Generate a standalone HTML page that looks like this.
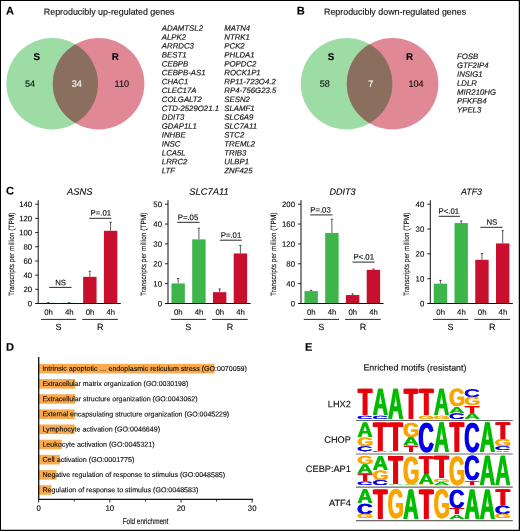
<!DOCTYPE html>
<html><head><meta charset="utf-8"><title>Figure</title>
<style>
html,body{margin:0;padding:0;background:#fff}
svg{display:block;will-change:transform;font-family:"Liberation Sans",sans-serif;text-rendering:geometricPrecision}
.t{stroke-width:.12px}
</style></head><body>
<svg width="520" height="531" viewBox="0 0 520 531">
<rect x="0" y="0" width="520" height="531" fill="#fff"/>
<text class="t" transform="translate(5.90 14.60) rotate(0.03)" font-size="11.1" font-weight="bold" fill="#000" stroke="#000">A</text>
<text class="t" transform="translate(296.70 14.60) rotate(0.03)" font-size="11.1" font-weight="bold" fill="#000" stroke="#000">B</text>
<text class="t" transform="translate(5.90 194.60) rotate(0.03)" font-size="11.1" font-weight="bold" fill="#000" stroke="#000">C</text>
<text class="t" transform="translate(5.90 350.80) rotate(0.03)" font-size="11.1" font-weight="bold" fill="#000" stroke="#000">D</text>
<text class="t" transform="translate(305.00 350.80) rotate(0.03)" font-size="11.1" font-weight="bold" fill="#000" stroke="#000">E</text>
<circle cx="52.2" cy="83.7" r="45.8" fill="#9ddca4"/>
<circle cx="98.6" cy="83.7" r="45.8" fill="#e18896"/>
<clipPath id="cp52"><circle cx="52.2" cy="83.7" r="45.8"/></clipPath>
<circle cx="98.6" cy="83.7" r="45.8" fill="#8a6f5f" clip-path="url(#cp52)"/>
<text class="t" transform="translate(43.80 14.80) rotate(0.03)" font-size="8.9" fill="#0a0a0a" stroke="#0a0a0a">Reproducibly up-regulated genes</text>
<text class="t" transform="translate(36.70 59.90) rotate(0.03)" font-size="9.8" text-anchor="middle" font-weight="bold" fill="#000" stroke="#000">S</text>
<text class="t" transform="translate(115.20 59.90) rotate(0.03)" font-size="9.8" text-anchor="middle" font-weight="bold" fill="#000" stroke="#000">R</text>
<text class="t" transform="translate(30.00 86.70) rotate(0.03)" font-size="9.1" text-anchor="middle" fill="#0a0a0a" stroke="#0a0a0a">54</text>
<text class="t" transform="translate(76.80 86.70) rotate(0.03)" font-size="9.1" text-anchor="middle" fill="#fff" stroke="#fff">34</text>
<text class="t" transform="translate(121.80 86.70) rotate(0.03)" font-size="9.1" text-anchor="middle" fill="#0a0a0a" stroke="#0a0a0a">110</text>
<text transform="translate(161.80 30.80) rotate(0.03)" font-size="7.8" font-style="italic" fill="#151515" stroke="#151515" stroke-width="0.16">ADAMTSL2</text>
<text transform="translate(161.80 39.70) rotate(0.03)" font-size="7.8" font-style="italic" fill="#151515" stroke="#151515" stroke-width="0.16">ALPK2</text>
<text transform="translate(161.80 48.60) rotate(0.03)" font-size="7.8" font-style="italic" fill="#151515" stroke="#151515" stroke-width="0.16">ARRDC3</text>
<text transform="translate(161.80 57.50) rotate(0.03)" font-size="7.8" font-style="italic" fill="#151515" stroke="#151515" stroke-width="0.16">BEST1</text>
<text transform="translate(161.80 66.40) rotate(0.03)" font-size="7.8" font-style="italic" fill="#151515" stroke="#151515" stroke-width="0.16">CEBPB</text>
<text transform="translate(161.80 75.30) rotate(0.03)" font-size="7.8" font-style="italic" fill="#151515" stroke="#151515" stroke-width="0.16">CEBPB-AS1</text>
<text transform="translate(161.80 84.20) rotate(0.03)" font-size="7.8" font-style="italic" fill="#151515" stroke="#151515" stroke-width="0.16">CHAC1</text>
<text transform="translate(161.80 93.10) rotate(0.03)" font-size="7.8" font-style="italic" fill="#151515" stroke="#151515" stroke-width="0.16">CLEC17A</text>
<text transform="translate(161.80 102.00) rotate(0.03)" font-size="7.8" font-style="italic" fill="#151515" stroke="#151515" stroke-width="0.16">COLGALT2</text>
<text transform="translate(161.80 110.90) rotate(0.03)" font-size="7.8" font-style="italic" fill="#151515" stroke="#151515" stroke-width="0.16">CTD-2529O21.1</text>
<text transform="translate(161.80 119.80) rotate(0.03)" font-size="7.8" font-style="italic" fill="#151515" stroke="#151515" stroke-width="0.16">DDIT3</text>
<text transform="translate(161.80 128.70) rotate(0.03)" font-size="7.8" font-style="italic" fill="#151515" stroke="#151515" stroke-width="0.16">GDAP1L1</text>
<text transform="translate(161.80 137.60) rotate(0.03)" font-size="7.8" font-style="italic" fill="#151515" stroke="#151515" stroke-width="0.16">INHBE</text>
<text transform="translate(161.80 146.50) rotate(0.03)" font-size="7.8" font-style="italic" fill="#151515" stroke="#151515" stroke-width="0.16">INSC</text>
<text transform="translate(161.80 155.40) rotate(0.03)" font-size="7.8" font-style="italic" fill="#151515" stroke="#151515" stroke-width="0.16">LCA5L</text>
<text transform="translate(161.80 164.30) rotate(0.03)" font-size="7.8" font-style="italic" fill="#151515" stroke="#151515" stroke-width="0.16">LRRC2</text>
<text transform="translate(161.80 173.20) rotate(0.03)" font-size="7.8" font-style="italic" fill="#151515" stroke="#151515" stroke-width="0.16">LTF</text>
<text transform="translate(224.30 30.80) rotate(0.03)" font-size="7.8" font-style="italic" fill="#151515" stroke="#151515" stroke-width="0.16">MATN4</text>
<text transform="translate(224.30 39.70) rotate(0.03)" font-size="7.8" font-style="italic" fill="#151515" stroke="#151515" stroke-width="0.16">NTRK1</text>
<text transform="translate(224.30 48.60) rotate(0.03)" font-size="7.8" font-style="italic" fill="#151515" stroke="#151515" stroke-width="0.16">PCK2</text>
<text transform="translate(224.30 57.50) rotate(0.03)" font-size="7.8" font-style="italic" fill="#151515" stroke="#151515" stroke-width="0.16">PHLDA1</text>
<text transform="translate(224.30 66.40) rotate(0.03)" font-size="7.8" font-style="italic" fill="#151515" stroke="#151515" stroke-width="0.16">POPDC2</text>
<text transform="translate(224.30 75.30) rotate(0.03)" font-size="7.8" font-style="italic" fill="#151515" stroke="#151515" stroke-width="0.16">ROCK1P1</text>
<text transform="translate(224.30 84.20) rotate(0.03)" font-size="7.8" font-style="italic" fill="#151515" stroke="#151515" stroke-width="0.16">RP11-723O4.2</text>
<text transform="translate(224.30 93.10) rotate(0.03)" font-size="7.8" font-style="italic" fill="#151515" stroke="#151515" stroke-width="0.16">RP4-756G23.5</text>
<text transform="translate(224.30 102.00) rotate(0.03)" font-size="7.8" font-style="italic" fill="#151515" stroke="#151515" stroke-width="0.16">SESN2</text>
<text transform="translate(224.30 110.90) rotate(0.03)" font-size="7.8" font-style="italic" fill="#151515" stroke="#151515" stroke-width="0.16">SLAMF1</text>
<text transform="translate(224.30 119.80) rotate(0.03)" font-size="7.8" font-style="italic" fill="#151515" stroke="#151515" stroke-width="0.16">SLC6A9</text>
<text transform="translate(224.30 128.70) rotate(0.03)" font-size="7.8" font-style="italic" fill="#151515" stroke="#151515" stroke-width="0.16">SLC7A11</text>
<text transform="translate(224.30 137.60) rotate(0.03)" font-size="7.8" font-style="italic" fill="#151515" stroke="#151515" stroke-width="0.16">STC2</text>
<text transform="translate(224.30 146.50) rotate(0.03)" font-size="7.8" font-style="italic" fill="#151515" stroke="#151515" stroke-width="0.16">TREML2</text>
<text transform="translate(224.30 155.40) rotate(0.03)" font-size="7.8" font-style="italic" fill="#151515" stroke="#151515" stroke-width="0.16">TRIB3</text>
<text transform="translate(224.30 164.30) rotate(0.03)" font-size="7.8" font-style="italic" fill="#151515" stroke="#151515" stroke-width="0.16">ULBP1</text>
<text transform="translate(224.30 173.20) rotate(0.03)" font-size="7.8" font-style="italic" fill="#151515" stroke="#151515" stroke-width="0.16">ZNF425</text>
<circle cx="346.6" cy="83.7" r="45.8" fill="#9ddca4"/>
<circle cx="392.6" cy="83.7" r="45.8" fill="#e18896"/>
<clipPath id="cp346"><circle cx="346.6" cy="83.7" r="45.8"/></clipPath>
<circle cx="392.6" cy="83.7" r="45.8" fill="#8a6f5f" clip-path="url(#cp346)"/>
<text class="t" transform="translate(324.00 14.80) rotate(0.03)" font-size="8.9" fill="#0a0a0a" stroke="#0a0a0a">Reproducibly down-regulated genes</text>
<text class="t" transform="translate(330.90 59.90) rotate(0.03)" font-size="9.8" text-anchor="middle" font-weight="bold" fill="#000" stroke="#000">S</text>
<text class="t" transform="translate(409.60 59.90) rotate(0.03)" font-size="9.8" text-anchor="middle" font-weight="bold" fill="#000" stroke="#000">R</text>
<text class="t" transform="translate(324.70 86.70) rotate(0.03)" font-size="9.1" text-anchor="middle" fill="#0a0a0a" stroke="#0a0a0a">58</text>
<text class="t" transform="translate(370.90 86.70) rotate(0.03)" font-size="9.1" text-anchor="middle" fill="#fff" stroke="#fff">7</text>
<text class="t" transform="translate(416.10 86.70) rotate(0.03)" font-size="9.1" text-anchor="middle" fill="#0a0a0a" stroke="#0a0a0a">104</text>
<text transform="translate(457.00 59.00) rotate(0.03)" font-size="7.8" font-style="italic" fill="#151515" stroke="#151515" stroke-width="0.16">FOSB</text>
<text transform="translate(457.00 67.92) rotate(0.03)" font-size="7.8" font-style="italic" fill="#151515" stroke="#151515" stroke-width="0.16">GTF2IP4</text>
<text transform="translate(457.00 76.84) rotate(0.03)" font-size="7.8" font-style="italic" fill="#151515" stroke="#151515" stroke-width="0.16">INSIG1</text>
<text transform="translate(457.00 85.76) rotate(0.03)" font-size="7.8" font-style="italic" fill="#151515" stroke="#151515" stroke-width="0.16">LDLR</text>
<text transform="translate(457.00 94.68) rotate(0.03)" font-size="7.8" font-style="italic" fill="#151515" stroke="#151515" stroke-width="0.16">MIR210HG</text>
<text transform="translate(457.00 103.60) rotate(0.03)" font-size="7.8" font-style="italic" fill="#151515" stroke="#151515" stroke-width="0.16">PFKFB4</text>
<text transform="translate(457.00 112.52) rotate(0.03)" font-size="7.8" font-style="italic" fill="#151515" stroke="#151515" stroke-width="0.16">YPEL3</text>
<path d="M48.35 302.86V302.37M47.15 302.57H49.55" stroke="#1a1a1a" stroke-width="0.7" fill="none"/>
<rect x="41.65" y="302.86" width="13.4" height="0.64" fill="#3db54a"/>
<path d="M69.10 302.86V302.37M67.90 302.57H70.30" stroke="#1a1a1a" stroke-width="0.7" fill="none"/>
<rect x="62.40" y="302.86" width="13.4" height="0.64" fill="#3db54a"/>
<path d="M89.85 276.83V271.01M88.65 271.21H91.05" stroke="#1a1a1a" stroke-width="0.7" fill="none"/>
<rect x="83.15" y="276.83" width="13.4" height="26.67" fill="#c8102e"/>
<path d="M110.60 230.80V222.00M109.40 222.20H111.80" stroke="#1a1a1a" stroke-width="0.7" fill="none"/>
<rect x="103.90" y="230.80" width="13.4" height="72.70" fill="#c8102e"/>
<path d="M38.20 200.2V303.5M35.20 303.5H120.80" stroke="#111" stroke-width="1" fill="none"/>
<text class="t" transform="translate(32.20 306.25) rotate(0.03)" font-size="7.8" text-anchor="end" fill="#0a0a0a" stroke="#0a0a0a">0</text>
<path d="M35.20 289.31H38.20" stroke="#111" stroke-width="0.9"/>
<text class="t" transform="translate(32.20 292.06) rotate(0.03)" font-size="7.8" text-anchor="end" fill="#0a0a0a" stroke="#0a0a0a">20</text>
<path d="M35.20 275.13H38.20" stroke="#111" stroke-width="0.9"/>
<text class="t" transform="translate(32.20 277.88) rotate(0.03)" font-size="7.8" text-anchor="end" fill="#0a0a0a" stroke="#0a0a0a">40</text>
<path d="M35.20 260.94H38.20" stroke="#111" stroke-width="0.9"/>
<text class="t" transform="translate(32.20 263.69) rotate(0.03)" font-size="7.8" text-anchor="end" fill="#0a0a0a" stroke="#0a0a0a">60</text>
<path d="M35.20 246.76H38.20" stroke="#111" stroke-width="0.9"/>
<text class="t" transform="translate(32.20 249.51) rotate(0.03)" font-size="7.8" text-anchor="end" fill="#0a0a0a" stroke="#0a0a0a">80</text>
<path d="M35.20 232.57H38.20" stroke="#111" stroke-width="0.9"/>
<text class="t" transform="translate(32.20 235.32) rotate(0.03)" font-size="7.8" text-anchor="end" fill="#0a0a0a" stroke="#0a0a0a">100</text>
<path d="M35.20 218.39H38.20" stroke="#111" stroke-width="0.9"/>
<text class="t" transform="translate(32.20 221.14) rotate(0.03)" font-size="7.8" text-anchor="end" fill="#0a0a0a" stroke="#0a0a0a">120</text>
<path d="M35.20 204.20H38.20" stroke="#111" stroke-width="0.9"/>
<text class="t" transform="translate(32.20 206.95) rotate(0.03)" font-size="7.8" text-anchor="end" fill="#0a0a0a" stroke="#0a0a0a">140</text>
<text class="t" transform="translate(79.70 194.70) rotate(0.03)" font-size="9.4" text-anchor="middle" font-style="italic" fill="#0a0a0a" stroke="#0a0a0a">ASNS</text>
<text class="t" transform="translate(13.60 254.30) rotate(-90) rotate(0.03) scale(0.857 1)" font-size="7.6" text-anchor="middle" fill="#0a0a0a" stroke="#0a0a0a">Transcripts per million (TPM)</text>
<text class="t" transform="translate(48.55 314.80) rotate(0.03)" font-size="7.8" text-anchor="middle" fill="#0a0a0a" stroke="#0a0a0a">0h</text>
<text class="t" transform="translate(69.30 314.80) rotate(0.03)" font-size="7.8" text-anchor="middle" fill="#0a0a0a" stroke="#0a0a0a">4h</text>
<text class="t" transform="translate(90.05 314.80) rotate(0.03)" font-size="7.8" text-anchor="middle" fill="#0a0a0a" stroke="#0a0a0a">0h</text>
<text class="t" transform="translate(110.80 314.80) rotate(0.03)" font-size="7.8" text-anchor="middle" fill="#0a0a0a" stroke="#0a0a0a">4h</text>
<path d="M41.00 319.4H76.20M82.30 319.4H117.90" stroke="#111" stroke-width="0.9"/>
<text class="t" transform="translate(58.50 330.00) rotate(0.03)" font-size="9" text-anchor="middle" fill="#0a0a0a" stroke="#0a0a0a">S</text>
<text class="t" transform="translate(100.20 330.00) rotate(0.03)" font-size="9" text-anchor="middle" fill="#0a0a0a" stroke="#0a0a0a">R</text>
<text class="t" transform="translate(60.60 285.20) rotate(0.03)" font-size="7.8" text-anchor="middle" fill="#0a0a0a" stroke="#0a0a0a">NS</text>
<path d="M49.20 287.40H71.60" stroke="#111" stroke-width="0.9"/>
<text class="t" transform="translate(100.80 215.40) rotate(0.03)" font-size="7.8" text-anchor="middle" fill="#0a0a0a" stroke="#0a0a0a">P=.01</text>
<path d="M89.20 218.30H111.30" stroke="#111" stroke-width="0.9"/>
<path d="M178.15 283.44V278.28M176.95 278.48H179.35" stroke="#1a1a1a" stroke-width="0.7" fill="none"/>
<rect x="171.45" y="283.44" width="13.4" height="20.06" fill="#3db54a"/>
<path d="M198.90 239.35V228.03M197.70 228.23H200.10" stroke="#1a1a1a" stroke-width="0.7" fill="none"/>
<rect x="192.20" y="239.35" width="13.4" height="64.15" fill="#3db54a"/>
<path d="M219.65 292.18V288.80M218.45 289.00H220.85" stroke="#1a1a1a" stroke-width="0.7" fill="none"/>
<rect x="212.95" y="292.18" width="13.4" height="11.32" fill="#c8102e"/>
<path d="M240.40 253.45V245.31M239.20 245.51H241.60" stroke="#1a1a1a" stroke-width="0.7" fill="none"/>
<rect x="233.70" y="253.45" width="13.4" height="50.05" fill="#c8102e"/>
<path d="M168.00 200.2V303.5M165.00 303.5H250.60" stroke="#111" stroke-width="1" fill="none"/>
<text class="t" transform="translate(162.00 306.25) rotate(0.03)" font-size="7.8" text-anchor="end" fill="#0a0a0a" stroke="#0a0a0a">0</text>
<path d="M165.00 283.64H168.00" stroke="#111" stroke-width="0.9"/>
<text class="t" transform="translate(162.00 286.39) rotate(0.03)" font-size="7.8" text-anchor="end" fill="#0a0a0a" stroke="#0a0a0a">10</text>
<path d="M165.00 263.78H168.00" stroke="#111" stroke-width="0.9"/>
<text class="t" transform="translate(162.00 266.53) rotate(0.03)" font-size="7.8" text-anchor="end" fill="#0a0a0a" stroke="#0a0a0a">20</text>
<path d="M165.00 243.92H168.00" stroke="#111" stroke-width="0.9"/>
<text class="t" transform="translate(162.00 246.67) rotate(0.03)" font-size="7.8" text-anchor="end" fill="#0a0a0a" stroke="#0a0a0a">30</text>
<path d="M165.00 224.06H168.00" stroke="#111" stroke-width="0.9"/>
<text class="t" transform="translate(162.00 226.81) rotate(0.03)" font-size="7.8" text-anchor="end" fill="#0a0a0a" stroke="#0a0a0a">40</text>
<path d="M165.00 204.20H168.00" stroke="#111" stroke-width="0.9"/>
<text class="t" transform="translate(162.00 206.95) rotate(0.03)" font-size="7.8" text-anchor="end" fill="#0a0a0a" stroke="#0a0a0a">50</text>
<text class="t" transform="translate(209.00 194.70) rotate(0.03)" font-size="9.4" text-anchor="middle" font-style="italic" fill="#0a0a0a" stroke="#0a0a0a">SLC7A11</text>
<text class="t" transform="translate(146.30 254.30) rotate(-90) rotate(0.03) scale(0.857 1)" font-size="7.6" text-anchor="middle" fill="#0a0a0a" stroke="#0a0a0a">Transcripts per million (TPM)</text>
<text class="t" transform="translate(178.35 314.80) rotate(0.03)" font-size="7.8" text-anchor="middle" fill="#0a0a0a" stroke="#0a0a0a">0h</text>
<text class="t" transform="translate(199.10 314.80) rotate(0.03)" font-size="7.8" text-anchor="middle" fill="#0a0a0a" stroke="#0a0a0a">4h</text>
<text class="t" transform="translate(219.85 314.80) rotate(0.03)" font-size="7.8" text-anchor="middle" fill="#0a0a0a" stroke="#0a0a0a">0h</text>
<text class="t" transform="translate(240.60 314.80) rotate(0.03)" font-size="7.8" text-anchor="middle" fill="#0a0a0a" stroke="#0a0a0a">4h</text>
<path d="M170.80 319.4H206.00M212.10 319.4H247.70" stroke="#111" stroke-width="0.9"/>
<text class="t" transform="translate(188.30 330.00) rotate(0.03)" font-size="9" text-anchor="middle" fill="#0a0a0a" stroke="#0a0a0a">S</text>
<text class="t" transform="translate(230.00 330.00) rotate(0.03)" font-size="9" text-anchor="middle" fill="#0a0a0a" stroke="#0a0a0a">R</text>
<text class="t" transform="translate(188.00 219.90) rotate(0.03)" font-size="7.8" text-anchor="middle" fill="#0a0a0a" stroke="#0a0a0a">P=.05</text>
<path d="M177.20 222.30H199.60" stroke="#111" stroke-width="0.9"/>
<text class="t" transform="translate(231.00 237.70) rotate(0.03)" font-size="7.8" text-anchor="middle" fill="#0a0a0a" stroke="#0a0a0a">P=.01</text>
<path d="M219.80 240.20H241.80" stroke="#111" stroke-width="0.9"/>
<path d="M311.15 291.09V290.09M309.95 290.29H312.35" stroke="#1a1a1a" stroke-width="0.7" fill="none"/>
<rect x="304.45" y="291.09" width="13.4" height="12.41" fill="#3db54a"/>
<path d="M331.90 233.00V219.09M330.70 219.29H333.10" stroke="#1a1a1a" stroke-width="0.7" fill="none"/>
<rect x="325.20" y="233.00" width="13.4" height="70.50" fill="#3db54a"/>
<path d="M352.65 295.06V293.77M351.45 293.97H353.85" stroke="#1a1a1a" stroke-width="0.7" fill="none"/>
<rect x="345.95" y="295.06" width="13.4" height="8.44" fill="#c8102e"/>
<path d="M373.40 269.84V268.79M372.20 268.99H374.60" stroke="#1a1a1a" stroke-width="0.7" fill="none"/>
<rect x="366.70" y="269.84" width="13.4" height="33.66" fill="#c8102e"/>
<path d="M301.00 200.2V303.5M298.00 303.5H383.60" stroke="#111" stroke-width="1" fill="none"/>
<text class="t" transform="translate(295.00 306.25) rotate(0.03)" font-size="7.8" text-anchor="end" fill="#0a0a0a" stroke="#0a0a0a">0</text>
<path d="M298.00 283.64H301.00" stroke="#111" stroke-width="0.9"/>
<text class="t" transform="translate(295.00 286.39) rotate(0.03)" font-size="7.8" text-anchor="end" fill="#0a0a0a" stroke="#0a0a0a">40</text>
<path d="M298.00 263.78H301.00" stroke="#111" stroke-width="0.9"/>
<text class="t" transform="translate(295.00 266.53) rotate(0.03)" font-size="7.8" text-anchor="end" fill="#0a0a0a" stroke="#0a0a0a">80</text>
<path d="M298.00 243.92H301.00" stroke="#111" stroke-width="0.9"/>
<text class="t" transform="translate(295.00 246.67) rotate(0.03)" font-size="7.8" text-anchor="end" fill="#0a0a0a" stroke="#0a0a0a">120</text>
<path d="M298.00 224.06H301.00" stroke="#111" stroke-width="0.9"/>
<text class="t" transform="translate(295.00 226.81) rotate(0.03)" font-size="7.8" text-anchor="end" fill="#0a0a0a" stroke="#0a0a0a">160</text>
<path d="M298.00 204.20H301.00" stroke="#111" stroke-width="0.9"/>
<text class="t" transform="translate(295.00 206.95) rotate(0.03)" font-size="7.8" text-anchor="end" fill="#0a0a0a" stroke="#0a0a0a">200</text>
<text class="t" transform="translate(342.50 194.70) rotate(0.03)" font-size="9.05" text-anchor="middle" font-style="italic" fill="#0a0a0a" stroke="#0a0a0a">DDIT3</text>
<text class="t" transform="translate(275.70 254.30) rotate(-90) rotate(0.03) scale(0.857 1)" font-size="7.6" text-anchor="middle" fill="#0a0a0a" stroke="#0a0a0a">Transcripts per million (TPM)</text>
<text class="t" transform="translate(311.35 314.80) rotate(0.03)" font-size="7.8" text-anchor="middle" fill="#0a0a0a" stroke="#0a0a0a">0h</text>
<text class="t" transform="translate(332.10 314.80) rotate(0.03)" font-size="7.8" text-anchor="middle" fill="#0a0a0a" stroke="#0a0a0a">4h</text>
<text class="t" transform="translate(352.85 314.80) rotate(0.03)" font-size="7.8" text-anchor="middle" fill="#0a0a0a" stroke="#0a0a0a">0h</text>
<text class="t" transform="translate(373.60 314.80) rotate(0.03)" font-size="7.8" text-anchor="middle" fill="#0a0a0a" stroke="#0a0a0a">4h</text>
<path d="M303.80 319.4H339.00M345.10 319.4H380.70" stroke="#111" stroke-width="0.9"/>
<text class="t" transform="translate(321.30 330.00) rotate(0.03)" font-size="9" text-anchor="middle" fill="#0a0a0a" stroke="#0a0a0a">S</text>
<text class="t" transform="translate(363.00 330.00) rotate(0.03)" font-size="9" text-anchor="middle" fill="#0a0a0a" stroke="#0a0a0a">R</text>
<text class="t" transform="translate(320.50 212.50) rotate(0.03)" font-size="7.8" text-anchor="middle" fill="#0a0a0a" stroke="#0a0a0a">P=.03</text>
<path d="M310.20 214.90H332.40" stroke="#111" stroke-width="0.9"/>
<text class="t" transform="translate(363.70 259.60) rotate(0.03)" font-size="7.8" text-anchor="middle" fill="#0a0a0a" stroke="#0a0a0a">P&lt;.01</text>
<path d="M352.50 262.10H374.60" stroke="#111" stroke-width="0.9"/>
<path d="M440.45 283.64V280.16M439.25 280.36H441.65" stroke="#1a1a1a" stroke-width="0.7" fill="none"/>
<rect x="433.75" y="283.64" width="13.4" height="19.86" fill="#3db54a"/>
<path d="M461.20 223.07V220.83M460.00 221.03H462.40" stroke="#1a1a1a" stroke-width="0.7" fill="none"/>
<rect x="454.50" y="223.07" width="13.4" height="80.43" fill="#3db54a"/>
<path d="M481.95 259.81V253.35M480.75 253.55H483.15" stroke="#1a1a1a" stroke-width="0.7" fill="none"/>
<rect x="475.25" y="259.81" width="13.4" height="43.69" fill="#c8102e"/>
<path d="M502.70 243.42V230.51M501.50 230.71H503.90" stroke="#1a1a1a" stroke-width="0.7" fill="none"/>
<rect x="496.00" y="243.42" width="13.4" height="60.08" fill="#c8102e"/>
<path d="M430.30 200.2V303.5M427.30 303.5H512.90" stroke="#111" stroke-width="1" fill="none"/>
<text class="t" transform="translate(424.30 306.25) rotate(0.03)" font-size="7.8" text-anchor="end" fill="#0a0a0a" stroke="#0a0a0a">0</text>
<path d="M427.30 278.68H430.30" stroke="#111" stroke-width="0.9"/>
<text class="t" transform="translate(424.30 281.43) rotate(0.03)" font-size="7.8" text-anchor="end" fill="#0a0a0a" stroke="#0a0a0a">10</text>
<path d="M427.30 253.85H430.30" stroke="#111" stroke-width="0.9"/>
<text class="t" transform="translate(424.30 256.60) rotate(0.03)" font-size="7.8" text-anchor="end" fill="#0a0a0a" stroke="#0a0a0a">20</text>
<path d="M427.30 229.02H430.30" stroke="#111" stroke-width="0.9"/>
<text class="t" transform="translate(424.30 231.77) rotate(0.03)" font-size="7.8" text-anchor="end" fill="#0a0a0a" stroke="#0a0a0a">30</text>
<path d="M427.30 204.20H430.30" stroke="#111" stroke-width="0.9"/>
<text class="t" transform="translate(424.30 206.95) rotate(0.03)" font-size="7.8" text-anchor="end" fill="#0a0a0a" stroke="#0a0a0a">40</text>
<text class="t" transform="translate(471.50 194.70) rotate(0.03)" font-size="8.85" text-anchor="middle" font-style="italic" fill="#0a0a0a" stroke="#0a0a0a">ATF3</text>
<text class="t" transform="translate(409.20 254.30) rotate(-90) rotate(0.03) scale(0.857 1)" font-size="7.6" text-anchor="middle" fill="#0a0a0a" stroke="#0a0a0a">Transcripts per million (TPM)</text>
<text class="t" transform="translate(440.65 314.80) rotate(0.03)" font-size="7.8" text-anchor="middle" fill="#0a0a0a" stroke="#0a0a0a">0h</text>
<text class="t" transform="translate(461.40 314.80) rotate(0.03)" font-size="7.8" text-anchor="middle" fill="#0a0a0a" stroke="#0a0a0a">4h</text>
<text class="t" transform="translate(482.15 314.80) rotate(0.03)" font-size="7.8" text-anchor="middle" fill="#0a0a0a" stroke="#0a0a0a">0h</text>
<text class="t" transform="translate(502.90 314.80) rotate(0.03)" font-size="7.8" text-anchor="middle" fill="#0a0a0a" stroke="#0a0a0a">4h</text>
<path d="M433.10 319.4H468.30M474.40 319.4H510.00" stroke="#111" stroke-width="0.9"/>
<text class="t" transform="translate(450.60 330.00) rotate(0.03)" font-size="9" text-anchor="middle" fill="#0a0a0a" stroke="#0a0a0a">S</text>
<text class="t" transform="translate(492.30 330.00) rotate(0.03)" font-size="9" text-anchor="middle" fill="#0a0a0a" stroke="#0a0a0a">R</text>
<text class="t" transform="translate(448.80 213.70) rotate(0.03)" font-size="7.8" text-anchor="middle" fill="#0a0a0a" stroke="#0a0a0a">P&lt;.01</text>
<path d="M438.60 216.30H460.10" stroke="#111" stroke-width="0.9"/>
<text class="t" transform="translate(491.80 224.70) rotate(0.03)" font-size="7.8" text-anchor="middle" fill="#0a0a0a" stroke="#0a0a0a">NS</text>
<path d="M480.40 227.30H502.50" stroke="#111" stroke-width="0.9"/>
<rect x="38.7" y="363.85" width="175.74" height="9.6" fill="#fbaa4e"/>
<text class="t" transform="translate(42.40 370.85) rotate(0.03)" font-size="7.1" fill="#0a0a0a" stroke="#0a0a0a" textLength="204.5" lengthAdjust="spacingAndGlyphs">Intrinsic apoptotic … endoplasmic reticulum stress (GO:0070059)</text>
<rect x="38.7" y="379.02" width="36.50" height="9.6" fill="#fbaa4e"/>
<text class="t" transform="translate(42.40 386.02) rotate(0.03)" font-size="7.1" fill="#0a0a0a" stroke="#0a0a0a" textLength="145.8" lengthAdjust="spacingAndGlyphs">Extracellular matrix organization (GO:0030198)</text>
<rect x="38.7" y="394.19" width="36.50" height="9.6" fill="#fbaa4e"/>
<text class="t" transform="translate(42.40 401.19) rotate(0.03)" font-size="7.1" fill="#0a0a0a" stroke="#0a0a0a" textLength="155.1" lengthAdjust="spacingAndGlyphs">Extracellular structure organization (GO:0043062)</text>
<rect x="38.7" y="409.36" width="35.93" height="9.6" fill="#fbaa4e"/>
<text class="t" transform="translate(42.40 416.36) rotate(0.03)" font-size="7.1" fill="#0a0a0a" stroke="#0a0a0a" textLength="186.8" lengthAdjust="spacingAndGlyphs">External encapsulating structure organization (GO:0045229)</text>
<rect x="38.7" y="424.53" width="35.93" height="9.6" fill="#fbaa4e"/>
<text class="t" transform="translate(42.40 431.53) rotate(0.03)" font-size="7.1" fill="#0a0a0a" stroke="#0a0a0a" textLength="117.7" lengthAdjust="spacingAndGlyphs">Lymphocyte activation (GO:0046649)</text>
<rect x="38.7" y="439.70" width="23.05" height="9.6" fill="#fbaa4e"/>
<text class="t" transform="translate(42.40 446.70) rotate(0.03)" font-size="7.1" fill="#0a0a0a" stroke="#0a0a0a" textLength="112.2" lengthAdjust="spacingAndGlyphs">Leukocyte activation (GO:0045321)</text>
<rect x="38.7" y="454.87" width="21.34" height="9.6" fill="#fbaa4e"/>
<text class="t" transform="translate(42.40 461.87) rotate(0.03)" font-size="7.1" fill="#0a0a0a" stroke="#0a0a0a" textLength="92" lengthAdjust="spacingAndGlyphs">Cell activation (GO:0001775)</text>
<rect x="38.7" y="470.04" width="17.79" height="9.6" fill="#fbaa4e"/>
<text class="t" transform="translate(42.40 477.04) rotate(0.03)" font-size="7.1" fill="#0a0a0a" stroke="#0a0a0a" textLength="182.7" lengthAdjust="spacingAndGlyphs">Negative regulation of response to stimulus (GO:0048585)</text>
<rect x="38.7" y="485.21" width="12.81" height="9.6" fill="#fbaa4e"/>
<text class="t" transform="translate(42.40 492.21) rotate(0.03)" font-size="7.1" fill="#0a0a0a" stroke="#0a0a0a" textLength="155.9" lengthAdjust="spacingAndGlyphs">Regulation of response to stimulus (GO:0048583)</text>
<path d="M38.7 357.1V499.3H253" stroke="#111" stroke-width="1.3" fill="none"/>
<path d="M38.70 499.3V502.5" stroke="#111" stroke-width="0.9"/>
<text class="t" transform="translate(38.70 510.80) rotate(0.03)" font-size="7.8" text-anchor="middle" fill="#0a0a0a" stroke="#0a0a0a">0</text>
<path d="M74.28 499.3V501.6" stroke="#111" stroke-width="0.8"/>
<path d="M109.85 499.3V502.5" stroke="#111" stroke-width="0.9"/>
<text class="t" transform="translate(109.85 510.80) rotate(0.03)" font-size="7.8" text-anchor="middle" fill="#0a0a0a" stroke="#0a0a0a">10</text>
<path d="M145.43 499.3V501.6" stroke="#111" stroke-width="0.8"/>
<path d="M181.00 499.3V502.5" stroke="#111" stroke-width="0.9"/>
<text class="t" transform="translate(181.00 510.80) rotate(0.03)" font-size="7.8" text-anchor="middle" fill="#0a0a0a" stroke="#0a0a0a">20</text>
<path d="M216.57 499.3V501.6" stroke="#111" stroke-width="0.8"/>
<path d="M252.15 499.3V502.5" stroke="#111" stroke-width="0.9"/>
<text class="t" transform="translate(252.15 510.80) rotate(0.03)" font-size="7.8" text-anchor="middle" fill="#0a0a0a" stroke="#0a0a0a">30</text>
<text class="t" transform="translate(145.50 523.90) rotate(0.03) scale(0.765 1)" font-size="8.3" text-anchor="middle" fill="#0a0a0a" stroke="#0a0a0a">Fold enrichment</text>
<text class="t" transform="translate(363.40 370.60) rotate(0.03)" font-size="8.9" fill="#0a0a0a" stroke="#0a0a0a">Enriched motifs (resistant)</text>
<text class="t" transform="translate(350.80 407.20) rotate(0.03)" font-size="9.2" text-anchor="end" fill="#0a0a0a" stroke="#0a0a0a">LHX2</text>
<text class="t" transform="translate(350.80 442.70) rotate(0.03)" font-size="9.2" text-anchor="end" fill="#0a0a0a" stroke="#0a0a0a">CHOP</text>
<text class="t" transform="translate(350.80 471.90) rotate(0.03)" font-size="9.2" text-anchor="end" fill="#0a0a0a" stroke="#0a0a0a">CEBP:AP1</text>
<text class="t" transform="translate(350.80 506.00) rotate(0.03)" font-size="9.2" text-anchor="end" fill="#0a0a0a" stroke="#0a0a0a">ATF4</text>
<text transform="matrix(0.2275 0 0 0.3819 357.25 415.08)" font-size="100" font-weight="bold" fill="#e8000b">T</text>
<text transform="matrix(0.2275 0 0 0.3819 358.95 415.08)" font-size="100" font-weight="bold" fill="#e8000b">T</text>
<text transform="matrix(0.2242 0 0 0.0469 356.58 418.65)" font-size="100" font-weight="bold" fill="#00e">C</text>
<text transform="matrix(0.2242 0 0 0.0469 357.02 418.65)" font-size="100" font-weight="bold" fill="#00e">C</text>
<text transform="matrix(0.2117 0 0 0.3819 372.27 415.08)" font-size="100" font-weight="bold" fill="#0b0">A</text>
<text transform="matrix(0.2117 0 0 0.3819 373.17 415.08)" font-size="100" font-weight="bold" fill="#0b0">A</text>
<text transform="matrix(0.2242 0 0 0.0469 371.88 418.65)" font-size="100" font-weight="bold" fill="#00e">C</text>
<text transform="matrix(0.2242 0 0 0.0469 372.32 418.65)" font-size="100" font-weight="bold" fill="#00e">C</text>
<text transform="matrix(0.2117 0 0 0.4390 387.57 419.00)" font-size="100" font-weight="bold" fill="#0b0">A</text>
<text transform="matrix(0.2117 0 0 0.4390 388.47 419.00)" font-size="100" font-weight="bold" fill="#0b0">A</text>
<text transform="matrix(0.2275 0 0 0.4390 403.15 419.00)" font-size="100" font-weight="bold" fill="#e8000b">T</text>
<text transform="matrix(0.2275 0 0 0.4390 404.85 419.00)" font-size="100" font-weight="bold" fill="#e8000b">T</text>
<text transform="matrix(0.2275 0 0 0.3819 418.45 415.08)" font-size="100" font-weight="bold" fill="#e8000b">T</text>
<text transform="matrix(0.2275 0 0 0.3819 420.15 415.08)" font-size="100" font-weight="bold" fill="#e8000b">T</text>
<text transform="matrix(0.2172 0 0 0.0469 417.81 418.65)" font-size="100" font-weight="bold" fill="#f9a500">G</text>
<text transform="matrix(0.2172 0 0 0.0469 418.25 418.65)" font-size="100" font-weight="bold" fill="#f9a500">G</text>
<text transform="matrix(0.2117 0 0 0.3819 433.47 415.08)" font-size="100" font-weight="bold" fill="#0b0">A</text>
<text transform="matrix(0.2117 0 0 0.3819 434.37 415.08)" font-size="100" font-weight="bold" fill="#0b0">A</text>
<text transform="matrix(0.2172 0 0 0.0469 433.11 418.65)" font-size="100" font-weight="bold" fill="#f9a500">G</text>
<text transform="matrix(0.2172 0 0 0.0469 433.55 418.65)" font-size="100" font-weight="bold" fill="#f9a500">G</text>
<text transform="matrix(0.2075 0 0 0.2517 448.45 406.37)" font-size="100" font-weight="bold" fill="#f9a500">G</text>
<text transform="matrix(0.2075 0 0 0.2517 449.55 406.37)" font-size="100" font-weight="bold" fill="#f9a500">G</text>
<text transform="matrix(0.2197 0 0 0.0834 448.75 412.66)" font-size="100" font-weight="bold" fill="#0b0">A</text>
<text transform="matrix(0.2197 0 0 0.0834 449.11 412.66)" font-size="100" font-weight="bold" fill="#0b0">A</text>
<text transform="matrix(0.2242 0 0 0.0811 448.38 418.62)" font-size="100" font-weight="bold" fill="#00e">C</text>
<text transform="matrix(0.2242 0 0 0.0811 448.82 418.62)" font-size="100" font-weight="bold" fill="#00e">C</text>
<text transform="matrix(0.2242 0 0 0.1109 463.68 396.55)" font-size="100" font-weight="bold" fill="#00e">C</text>
<text transform="matrix(0.2242 0 0 0.1109 464.12 396.55)" font-size="100" font-weight="bold" fill="#00e">C</text>
<text transform="matrix(0.2075 0 0 0.1195 463.75 405.29)" font-size="100" font-weight="bold" fill="#f9a500">G</text>
<text transform="matrix(0.2075 0 0 0.1195 464.85 405.29)" font-size="100" font-weight="bold" fill="#f9a500">G</text>
<text transform="matrix(0.2449 0 0 0.1010 464.33 412.66)" font-size="100" font-weight="bold" fill="#e8000b">T</text>
<text transform="matrix(0.2449 0 0 0.1010 465.01 412.66)" font-size="100" font-weight="bold" fill="#e8000b">T</text>
<text transform="matrix(0.2197 0 0 0.0834 464.05 418.70)" font-size="100" font-weight="bold" fill="#0b0">A</text>
<text transform="matrix(0.2197 0 0 0.0834 464.41 418.70)" font-size="100" font-weight="bold" fill="#0b0">A</text>
<path d="M356 420.5H512.8" stroke="#6a6a6a" stroke-width="1.2"/>
<text transform="matrix(0.2117 0 0 0.2122 356.97 436.80)" font-size="100" font-weight="bold" fill="#0b0">A</text>
<text transform="matrix(0.2117 0 0 0.2122 357.87 436.80)" font-size="100" font-weight="bold" fill="#0b0">A</text>
<text transform="matrix(0.2075 0 0 0.1220 356.65 445.62)" font-size="100" font-weight="bold" fill="#f9a500">G</text>
<text transform="matrix(0.2075 0 0 0.1220 357.75 445.62)" font-size="100" font-weight="bold" fill="#f9a500">G</text>
<text transform="matrix(0.2242 0 0 0.0673 356.58 450.74)" font-size="100" font-weight="bold" fill="#00e">C</text>
<text transform="matrix(0.2242 0 0 0.0673 357.02 450.74)" font-size="100" font-weight="bold" fill="#00e">C</text>
<text transform="matrix(0.2449 0 0 0.0086 357.23 451.70)" font-size="100" font-weight="bold" fill="#e8000b">T</text>
<text transform="matrix(0.2449 0 0 0.0086 357.91 451.70)" font-size="100" font-weight="bold" fill="#e8000b">T</text>
<text transform="matrix(0.2275 0 0 0.4158 372.55 450.81)" font-size="100" font-weight="bold" fill="#e8000b">T</text>
<text transform="matrix(0.2275 0 0 0.4158 374.25 450.81)" font-size="100" font-weight="bold" fill="#e8000b">T</text>
<text transform="matrix(0.2242 0 0 0.0084 371.88 451.69)" font-size="100" font-weight="bold" fill="#00e">C</text>
<text transform="matrix(0.2242 0 0 0.0084 372.32 451.69)" font-size="100" font-weight="bold" fill="#00e">C</text>
<text transform="matrix(0.2275 0 0 0.4158 387.85 450.81)" font-size="100" font-weight="bold" fill="#e8000b">T</text>
<text transform="matrix(0.2275 0 0 0.4158 389.55 450.81)" font-size="100" font-weight="bold" fill="#e8000b">T</text>
<text transform="matrix(0.2172 0 0 0.0084 387.21 451.69)" font-size="100" font-weight="bold" fill="#f9a500">G</text>
<text transform="matrix(0.2172 0 0 0.0084 387.65 451.69)" font-size="100" font-weight="bold" fill="#f9a500">G</text>
<text transform="matrix(0.2075 0 0 0.2062 402.55 436.60)" font-size="100" font-weight="bold" fill="#f9a500">G</text>
<text transform="matrix(0.2075 0 0 0.2062 403.65 436.60)" font-size="100" font-weight="bold" fill="#f9a500">G</text>
<text transform="matrix(0.2117 0 0 0.1169 402.87 445.14)" font-size="100" font-weight="bold" fill="#0b0">A</text>
<text transform="matrix(0.2117 0 0 0.1169 403.77 445.14)" font-size="100" font-weight="bold" fill="#0b0">A</text>
<text transform="matrix(0.2449 0 0 0.0909 403.13 451.70)" font-size="100" font-weight="bold" fill="#e8000b">T</text>
<text transform="matrix(0.2449 0 0 0.0909 403.81 451.70)" font-size="100" font-weight="bold" fill="#e8000b">T</text>
<text transform="matrix(0.2141 0 0 0.4209 417.82 451.59)" font-size="100" font-weight="bold" fill="#00e">C</text>
<text transform="matrix(0.2141 0 0 0.4209 418.92 451.59)" font-size="100" font-weight="bold" fill="#00e">C</text>
<text transform="matrix(0.2117 0 0 0.4331 433.47 452.00)" font-size="100" font-weight="bold" fill="#0b0">A</text>
<text transform="matrix(0.2117 0 0 0.4331 434.37 452.00)" font-size="100" font-weight="bold" fill="#0b0">A</text>
<text transform="matrix(0.2275 0 0 0.4331 449.05 452.00)" font-size="100" font-weight="bold" fill="#e8000b">T</text>
<text transform="matrix(0.2275 0 0 0.4331 450.75 452.00)" font-size="100" font-weight="bold" fill="#e8000b">T</text>
<text transform="matrix(0.2141 0 0 0.4209 463.72 451.59)" font-size="100" font-weight="bold" fill="#00e">C</text>
<text transform="matrix(0.2141 0 0 0.4209 464.82 451.59)" font-size="100" font-weight="bold" fill="#00e">C</text>
<text transform="matrix(0.2117 0 0 0.4331 479.37 452.00)" font-size="100" font-weight="bold" fill="#0b0">A</text>
<text transform="matrix(0.2117 0 0 0.4331 480.27 452.00)" font-size="100" font-weight="bold" fill="#0b0">A</text>
<text transform="matrix(0.2275 0 0 0.2425 494.95 438.89)" font-size="100" font-weight="bold" fill="#e8000b">T</text>
<text transform="matrix(0.2275 0 0 0.2425 496.65 438.89)" font-size="100" font-weight="bold" fill="#e8000b">T</text>
<text transform="matrix(0.2172 0 0 0.1010 494.31 446.24)" font-size="100" font-weight="bold" fill="#f9a500">G</text>
<text transform="matrix(0.2172 0 0 0.1010 494.75 446.24)" font-size="100" font-weight="bold" fill="#f9a500">G</text>
<text transform="matrix(0.2242 0 0 0.0547 494.28 450.45)" font-size="100" font-weight="bold" fill="#00e">C</text>
<text transform="matrix(0.2242 0 0 0.0547 494.72 450.45)" font-size="100" font-weight="bold" fill="#00e">C</text>
<text transform="matrix(0.2197 0 0 0.0130 494.65 451.70)" font-size="100" font-weight="bold" fill="#0b0">A</text>
<text transform="matrix(0.2197 0 0 0.0130 495.01 451.70)" font-size="100" font-weight="bold" fill="#0b0">A</text>
<path d="M356 454.0H512.8" stroke="#6a6a6a" stroke-width="1.2"/>
<text transform="matrix(0.2075 0 0 0.1154 356.65 464.05)" font-size="100" font-weight="bold" fill="#f9a500">G</text>
<text transform="matrix(0.2075 0 0 0.1154 357.75 464.05)" font-size="100" font-weight="bold" fill="#f9a500">G</text>
<text transform="matrix(0.2117 0 0 0.1272 356.97 473.22)" font-size="100" font-weight="bold" fill="#0b0">A</text>
<text transform="matrix(0.2117 0 0 0.1272 357.87 473.22)" font-size="100" font-weight="bold" fill="#0b0">A</text>
<text transform="matrix(0.2449 0 0 0.1102 357.23 481.10)" font-size="100" font-weight="bold" fill="#e8000b">T</text>
<text transform="matrix(0.2449 0 0 0.1102 357.91 481.10)" font-size="100" font-weight="bold" fill="#e8000b">T</text>
<text transform="matrix(0.2242 0 0 0.0494 356.58 484.85)" font-size="100" font-weight="bold" fill="#00e">C</text>
<text transform="matrix(0.2242 0 0 0.0494 357.02 484.85)" font-size="100" font-weight="bold" fill="#00e">C</text>
<text transform="matrix(0.2117 0 0 0.1994 372.27 469.72)" font-size="100" font-weight="bold" fill="#0b0">A</text>
<text transform="matrix(0.2117 0 0 0.1994 373.17 469.72)" font-size="100" font-weight="bold" fill="#0b0">A</text>
<text transform="matrix(0.2075 0 0 0.1360 371.95 479.51)" font-size="100" font-weight="bold" fill="#f9a500">G</text>
<text transform="matrix(0.2075 0 0 0.1360 373.05 479.51)" font-size="100" font-weight="bold" fill="#f9a500">G</text>
<text transform="matrix(0.2242 0 0 0.0700 371.88 484.83)" font-size="100" font-weight="bold" fill="#00e">C</text>
<text transform="matrix(0.2242 0 0 0.0700 372.32 484.83)" font-size="100" font-weight="bold" fill="#00e">C</text>
<text transform="matrix(0.2275 0 0 0.4073 387.85 484.02)" font-size="100" font-weight="bold" fill="#e8000b">T</text>
<text transform="matrix(0.2275 0 0 0.4073 389.55 484.02)" font-size="100" font-weight="bold" fill="#e8000b">T</text>
<text transform="matrix(0.2197 0 0 0.0084 387.55 484.90)" font-size="100" font-weight="bold" fill="#0b0">A</text>
<text transform="matrix(0.2197 0 0 0.0084 387.91 484.90)" font-size="100" font-weight="bold" fill="#0b0">A</text>
<text transform="matrix(0.2075 0 0 0.3958 402.55 483.64)" font-size="100" font-weight="bold" fill="#f9a500">G</text>
<text transform="matrix(0.2075 0 0 0.3958 403.65 483.64)" font-size="100" font-weight="bold" fill="#f9a500">G</text>
<text transform="matrix(0.2197 0 0 0.0084 402.85 484.90)" font-size="100" font-weight="bold" fill="#0b0">A</text>
<text transform="matrix(0.2197 0 0 0.0084 403.21 484.90)" font-size="100" font-weight="bold" fill="#0b0">A</text>
<text transform="matrix(0.2275 0 0 0.2588 418.45 473.80)" font-size="100" font-weight="bold" fill="#e8000b">T</text>
<text transform="matrix(0.2275 0 0 0.2588 420.15 473.80)" font-size="100" font-weight="bold" fill="#e8000b">T</text>
<text transform="matrix(0.2117 0 0 0.1442 418.17 484.02)" font-size="100" font-weight="bold" fill="#0b0">A</text>
<text transform="matrix(0.2117 0 0 0.1442 419.07 484.02)" font-size="100" font-weight="bold" fill="#0b0">A</text>
<text transform="matrix(0.2172 0 0 0.0081 417.81 484.89)" font-size="100" font-weight="bold" fill="#f9a500">G</text>
<text transform="matrix(0.2172 0 0 0.0081 418.25 484.89)" font-size="100" font-weight="bold" fill="#f9a500">G</text>
<text transform="matrix(0.2275 0 0 0.3224 433.75 478.18)" font-size="100" font-weight="bold" fill="#e8000b">T</text>
<text transform="matrix(0.2275 0 0 0.3224 435.45 478.18)" font-size="100" font-weight="bold" fill="#e8000b">T</text>
<text transform="matrix(0.2172 0 0 0.0453 433.11 481.64)" font-size="100" font-weight="bold" fill="#f9a500">G</text>
<text transform="matrix(0.2172 0 0 0.0453 433.55 481.64)" font-size="100" font-weight="bold" fill="#f9a500">G</text>
<text transform="matrix(0.2197 0 0 0.0423 433.45 484.90)" font-size="100" font-weight="bold" fill="#0b0">A</text>
<text transform="matrix(0.2197 0 0 0.0423 433.81 484.90)" font-size="100" font-weight="bold" fill="#0b0">A</text>
<text transform="matrix(0.2075 0 0 0.4124 448.45 484.80)" font-size="100" font-weight="bold" fill="#f9a500">G</text>
<text transform="matrix(0.2075 0 0 0.4124 449.55 484.80)" font-size="100" font-weight="bold" fill="#f9a500">G</text>
<text transform="matrix(0.2141 0 0 0.3505 463.72 480.47)" font-size="100" font-weight="bold" fill="#00e">C</text>
<text transform="matrix(0.2141 0 0 0.3505 464.82 480.47)" font-size="100" font-weight="bold" fill="#00e">C</text>
<text transform="matrix(0.2449 0 0 0.0551 464.33 484.90)" font-size="100" font-weight="bold" fill="#e8000b">T</text>
<text transform="matrix(0.2449 0 0 0.0551 465.01 484.90)" font-size="100" font-weight="bold" fill="#e8000b">T</text>
<text transform="matrix(0.2117 0 0 0.4244 479.37 485.20)" font-size="100" font-weight="bold" fill="#0b0">A</text>
<text transform="matrix(0.2117 0 0 0.4244 480.27 485.20)" font-size="100" font-weight="bold" fill="#0b0">A</text>
<text transform="matrix(0.2117 0 0 0.4244 494.67 485.20)" font-size="100" font-weight="bold" fill="#0b0">A</text>
<text transform="matrix(0.2117 0 0 0.4244 495.57 485.20)" font-size="100" font-weight="bold" fill="#0b0">A</text>
<path d="M356 487.2H512.8" stroke="#6a6a6a" stroke-width="1.2"/>
<text transform="matrix(0.2117 0 0 0.2015 356.97 503.16)" font-size="100" font-weight="bold" fill="#0b0">A</text>
<text transform="matrix(0.2117 0 0 0.2015 357.87 503.16)" font-size="100" font-weight="bold" fill="#0b0">A</text>
<text transform="matrix(0.2141 0 0 0.1458 356.62 513.64)" font-size="100" font-weight="bold" fill="#00e">C</text>
<text transform="matrix(0.2141 0 0 0.1458 357.72 513.64)" font-size="100" font-weight="bold" fill="#00e">C</text>
<text transform="matrix(0.2172 0 0 0.0624 356.61 518.44)" font-size="100" font-weight="bold" fill="#f9a500">G</text>
<text transform="matrix(0.2172 0 0 0.0624 357.05 518.44)" font-size="100" font-weight="bold" fill="#f9a500">G</text>
<text transform="matrix(0.2275 0 0 0.4288 372.55 518.80)" font-size="100" font-weight="bold" fill="#e8000b">T</text>
<text transform="matrix(0.2275 0 0 0.4288 374.25 518.80)" font-size="100" font-weight="bold" fill="#e8000b">T</text>
<text transform="matrix(0.2075 0 0 0.4167 387.25 518.39)" font-size="100" font-weight="bold" fill="#f9a500">G</text>
<text transform="matrix(0.2075 0 0 0.4167 388.35 518.39)" font-size="100" font-weight="bold" fill="#f9a500">G</text>
<text transform="matrix(0.2117 0 0 0.4288 402.87 518.80)" font-size="100" font-weight="bold" fill="#0b0">A</text>
<text transform="matrix(0.2117 0 0 0.4288 403.77 518.80)" font-size="100" font-weight="bold" fill="#0b0">A</text>
<text transform="matrix(0.2275 0 0 0.4288 418.45 518.80)" font-size="100" font-weight="bold" fill="#e8000b">T</text>
<text transform="matrix(0.2275 0 0 0.4288 420.15 518.80)" font-size="100" font-weight="bold" fill="#e8000b">T</text>
<text transform="matrix(0.2075 0 0 0.4167 433.15 518.39)" font-size="100" font-weight="bold" fill="#f9a500">G</text>
<text transform="matrix(0.2075 0 0 0.4167 434.25 518.39)" font-size="100" font-weight="bold" fill="#f9a500">G</text>
<text transform="matrix(0.2141 0 0 0.2624 448.42 507.62)" font-size="100" font-weight="bold" fill="#00e">C</text>
<text transform="matrix(0.2141 0 0 0.2624 449.52 507.62)" font-size="100" font-weight="bold" fill="#00e">C</text>
<text transform="matrix(0.2449 0 0 0.0857 449.03 514.07)" font-size="100" font-weight="bold" fill="#e8000b">T</text>
<text transform="matrix(0.2449 0 0 0.0857 449.71 514.07)" font-size="100" font-weight="bold" fill="#e8000b">T</text>
<text transform="matrix(0.2197 0 0 0.0600 448.75 518.50)" font-size="100" font-weight="bold" fill="#0b0">A</text>
<text transform="matrix(0.2197 0 0 0.0600 449.11 518.50)" font-size="100" font-weight="bold" fill="#0b0">A</text>
<text transform="matrix(0.2117 0 0 0.4288 464.07 518.80)" font-size="100" font-weight="bold" fill="#0b0">A</text>
<text transform="matrix(0.2117 0 0 0.4288 464.97 518.80)" font-size="100" font-weight="bold" fill="#0b0">A</text>
<text transform="matrix(0.2117 0 0 0.4288 479.37 518.80)" font-size="100" font-weight="bold" fill="#0b0">A</text>
<text transform="matrix(0.2117 0 0 0.4288 480.27 518.80)" font-size="100" font-weight="bold" fill="#0b0">A</text>
<text transform="matrix(0.2275 0 0 0.2272 494.95 504.93)" font-size="100" font-weight="bold" fill="#e8000b">T</text>
<text transform="matrix(0.2275 0 0 0.2272 496.65 504.93)" font-size="100" font-weight="bold" fill="#e8000b">T</text>
<text transform="matrix(0.2141 0 0 0.1208 494.32 513.66)" font-size="100" font-weight="bold" fill="#00e">C</text>
<text transform="matrix(0.2141 0 0 0.1208 495.42 513.66)" font-size="100" font-weight="bold" fill="#00e">C</text>
<text transform="matrix(0.2172 0 0 0.0624 494.31 518.44)" font-size="100" font-weight="bold" fill="#f9a500">G</text>
<text transform="matrix(0.2172 0 0 0.0624 494.75 518.44)" font-size="100" font-weight="bold" fill="#f9a500">G</text>
<path d="M356 520.6H512.8" stroke="#6a6a6a" stroke-width="1.2"/>
<path d="M0 0H520V531H0Z M1 1V529.75H518.75V1Z" fill="#000" fill-rule="evenodd"/>
</svg>
</body></html>
